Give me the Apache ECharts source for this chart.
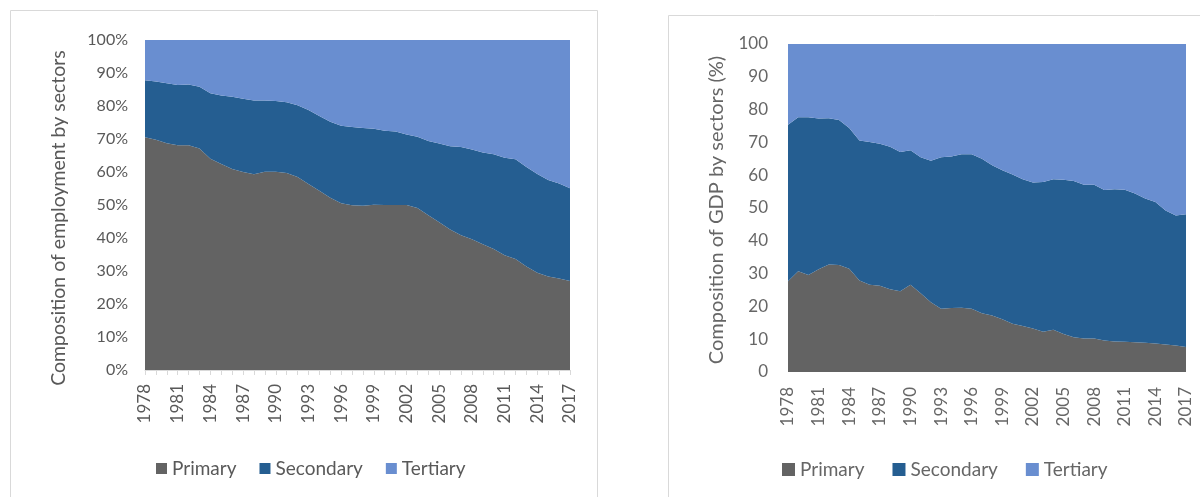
<!DOCTYPE html>
<html>
<head>
<meta charset="utf-8">
<script src="https://cdn.jsdelivr.net/npm/echarts@6/dist/echarts.min.js"></script>
<style>
html,body{margin:0;padding:0;background:#fff;}
#c{width:1200px;height:497px;}
</style>
</head>
<body>
<div id="c"></div>
<script>
const years = ['1978','1979','1980','1981','1982','1983','1984','1985','1986','1987','1988','1989','1990','1991','1992','1993','1994','1995','1996','1997','1998','1999','2000','2001','2002','2003','2004','2005','2006','2007','2008','2009','2010','2011','2012','2013','2014','2015','2016','2017'];
const seriesNames = ['Primary','Secondary','Tertiary'];

// Employment composition (%)
const empPrimary = [70.5,69.8,68.7,68.1,68.1,67.1,64.0,62.4,60.9,60.0,59.3,60.1,60.1,59.7,58.5,56.4,54.3,52.2,50.5,49.9,49.8,50.1,50.0,50.0,50.0,49.1,46.9,44.8,42.6,40.8,39.6,38.1,36.7,34.8,33.6,31.4,29.5,28.3,27.7,27.0];
const empSecondary = [17.3,17.6,18.2,18.3,18.4,18.7,19.9,20.8,21.9,22.2,22.4,21.6,21.4,21.4,21.7,22.4,22.7,23.0,23.5,23.7,23.5,23.0,22.5,22.3,21.4,21.6,22.5,23.8,25.2,26.8,27.2,27.8,28.7,29.5,30.3,30.1,29.9,29.3,28.8,28.1];
const empTertiary = [12.2,12.6,13.1,13.6,13.5,14.2,16.1,16.8,17.2,17.8,18.3,18.3,18.5,18.9,19.8,21.2,23.0,24.8,26.0,26.4,26.7,26.9,27.5,27.7,28.6,29.3,30.6,31.4,32.2,32.4,33.2,34.1,34.6,35.7,36.1,38.5,40.6,42.4,43.5,44.9];

// GDP composition (%)
const gdpPrimary = [27.7,30.7,29.6,31.3,32.8,32.6,31.5,27.9,26.6,26.3,25.2,24.6,26.6,24.0,21.3,19.3,19.5,19.6,19.3,17.9,17.2,16.1,14.7,14.0,13.3,12.3,12.9,11.6,10.6,10.2,10.2,9.6,9.3,9.2,9.1,8.9,8.7,8.4,8.1,7.6];
const gdpSecondary = [47.7,47.0,48.1,46.0,44.6,44.2,42.9,42.7,43.5,43.3,43.5,42.5,41.0,41.5,43.1,46.2,46.2,46.8,47.1,47.1,45.8,45.4,45.5,44.8,44.5,45.6,45.9,47.0,47.6,46.9,46.9,45.9,46.4,46.4,45.3,44.0,43.1,40.8,39.6,40.5];
const gdpTertiary = [24.6,22.3,22.3,22.7,22.6,23.2,25.6,29.4,29.9,30.4,31.3,32.9,32.4,34.5,35.6,34.5,34.3,33.6,33.6,35.0,37.0,38.5,39.8,41.2,42.2,42.1,41.2,41.4,41.8,42.9,42.9,44.5,44.3,44.4,45.6,47.1,48.2,50.8,52.3,51.9];

const empTitle = 'Composition of employment by sectors';
const gdpTitle = 'Composition of GDP by sectors (%)';

const colors = ['#636363','#255E91','#698ED0'];
const FONT = 'Lato, "Open Sans", sans-serif';
const txt = '#595959';
const txt2 = '#666666';

const chart = echarts.init(document.getElementById('c'), null, {renderer:'canvas'});

function mkSeries(idx, arrs, stackName){
  return arrs.map((d,i)=>({
    name: seriesNames[i], type:'line', xAxisIndex: idx, yAxisIndex: idx,
    stack: stackName, data: d, showSymbol:false, symbol:'none',
    lineStyle:{width:0}, areaStyle:{color:colors[i], opacity:1},
    itemStyle:{color:colors[i]}, emphasis:{disabled:true}
  }));
}

chart.setOption({
  animation:false,
  color: colors,
  textStyle:{fontFamily:FONT},
  graphic:[
    {type:'rect', shape:{x:10.5,y:10.5,width:587,height:520}, style:{fill:'none',stroke:'#d9d9d9',lineWidth:1}, z:-10},
    {type:'rect', shape:{x:668.5,y:15.5,width:600,height:520}, style:{fill:'none',stroke:'#d9d9d9',lineWidth:1}, z:-10},
    {type:'text', x:59, y:218, rotation:Math.PI/2,
     style:{text:empTitle, fill:txt, font:'19.5px Lato, sans-serif', textAlign:'center', textVerticalAlign:'middle'}},
    {type:'text', x:717, y:210, rotation:Math.PI/2,
     style:{text:gdpTitle, fill:txt2, font:'20px Lato, sans-serif', textAlign:'center', textVerticalAlign:'middle'}}
  ],
  grid:[
    {left:145, top:40, width:425, height:330},
    {left:788, top:44, width:398, height:328}
  ],
  legend:[
    {data:seriesNames, left:151, top:454, icon:'rect', itemWidth:11, itemHeight:11, itemGap:23,
     textStyle:{color:txt, fontSize:19, fontFamily:FONT}, selectedMode:false},
    {data:seriesNames, left:777, top:455, icon:'rect', itemWidth:13, itemHeight:13, itemGap:28,
     textStyle:{color:txt2, fontSize:19, fontFamily:FONT}, selectedMode:false}
  ],
  xAxis:[
    {type:'category', gridIndex:0, data:years, boundaryGap:false,
     axisLine:{lineStyle:{color:'#d9d9d9'}},
     axisTick:{show:true, interval:0, length:5, lineStyle:{color:'#d9d9d9'}},
     axisLabel:{interval:2, rotate:90, color:txt, fontSize:17, margin:14, fontFamily:FONT}},
    {type:'category', gridIndex:1, data:years, boundaryGap:false,
     axisLine:{show:false}, axisTick:{show:false},
     axisLabel:{interval:2, rotate:90, color:txt2, fontSize:17, margin:15, fontFamily:FONT}}
  ],
  yAxis:[
    {type:'value', gridIndex:0, min:0, max:100, interval:10,
     axisLine:{show:false}, axisTick:{show:false}, splitLine:{show:false},
     axisLabel:{formatter:'{value}%', color:txt, fontSize:16, margin:17, fontFamily:FONT}},
    {type:'value', gridIndex:1, min:0, max:100, interval:10,
     axisLine:{show:false}, axisTick:{show:false}, splitLine:{show:false},
     axisLabel:{color:txt2, fontSize:17, margin:20, fontFamily:FONT}}
  ],
  series: [].concat(
    mkSeries(0,[empPrimary,empSecondary,empTertiary],'emp'),
    mkSeries(1,[gdpPrimary,gdpSecondary,gdpTertiary],'gdp')
  )
});
</script>
</body>
</html>
